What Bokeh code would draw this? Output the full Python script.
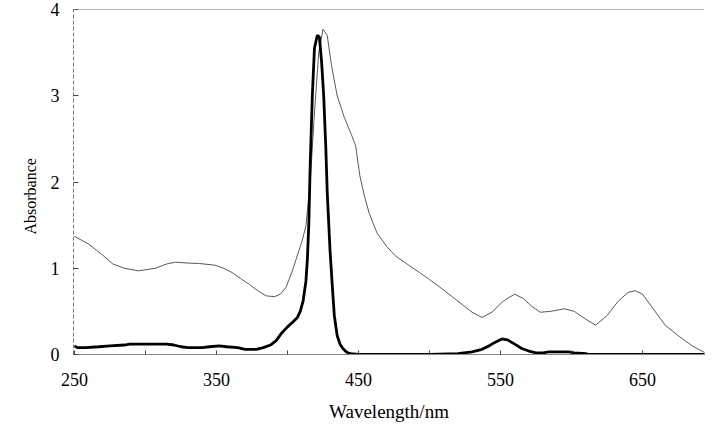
from bokeh.plotting import figure
from bokeh.models import Range1d, FixedTicker, Span, Title
from bokeh.embed import file_html
from bokeh.resources import INLINE

# Thin grey spectrum
thin_nm = [250, 260, 270, 277, 285, 295, 307, 315, 321, 330, 338, 349, 355, 361, 367, 373, 379, 385, 391,
           395, 399, 403, 406, 410, 413, 416, 419, 422, 425, 428, 431, 435, 440, 445, 448, 451, 454, 457.5,
           463, 470, 476, 485, 493, 500, 509, 516, 523, 530, 537, 544, 552, 560, 566, 572, 578, 585, 595,
           602, 610, 617, 625, 633, 640, 645, 650, 658, 666, 675, 685, 694]
thin_abs = [1.37, 1.28, 1.15, 1.05, 1.00, 0.97, 1.00, 1.05, 1.07, 1.06, 1.055, 1.035, 1.00, 0.95, 0.88, 0.815,
            0.74, 0.68, 0.67, 0.70, 0.78, 0.95, 1.10, 1.30, 1.49, 2.00, 2.80, 3.50, 3.77, 3.70, 3.35, 3.00,
            2.75, 2.55, 2.42, 2.07, 1.85, 1.64, 1.41, 1.25, 1.144, 1.04, 0.95, 0.87, 0.76, 0.67, 0.58, 0.49,
            0.43, 0.49, 0.62, 0.70, 0.65, 0.56, 0.49, 0.50, 0.53, 0.50, 0.41, 0.34, 0.45, 0.62, 0.72, 0.74,
            0.70, 0.52, 0.34, 0.22, 0.10, 0.02]

# Thick black spectrum
bold_nm = [250, 252, 258, 267, 275, 285, 289, 300, 315, 320, 325, 330, 340, 345, 352, 357, 365, 370, 378,
           383, 388, 392, 396, 400, 404, 407, 409, 411, 413, 414, 415, 416, 417.5, 419, 421, 422.5, 424,
           425.5, 427, 428, 430, 431.7, 433, 435, 437, 439, 441.5, 444, 450, 500, 520, 530, 537, 542, 546,
           551, 555, 560, 565, 570, 575, 580, 584, 598, 602, 610, 612, 694]
bold_abs = [0.10, 0.08, 0.08, 0.09, 0.10, 0.11, 0.12, 0.12, 0.12, 0.11, 0.09, 0.08, 0.08, 0.09, 0.10, 0.09,
            0.08, 0.06, 0.06, 0.08, 0.11, 0.16, 0.25, 0.32, 0.38, 0.43, 0.50, 0.62, 0.85, 1.10, 1.50, 2.20,
            3.00, 3.55, 3.70, 3.68, 3.40, 3.00, 2.40, 1.88, 1.20, 0.76, 0.45, 0.22, 0.12, 0.07, 0.03, 0.01,
            0.0, 0.0, 0.01, 0.03, 0.06, 0.10, 0.14, 0.18, 0.17, 0.12, 0.07, 0.04, 0.02, 0.02, 0.03, 0.03,
            0.02, 0.01, 0.0, 0.0]

x_ticks = [250, 300, 350, 400, 450, 500, 550, 600, 650]
x_labels = {250: "250", 300: "", 350: "350", 400: "", 450: "450", 500: "", 550: "550", 600: "", 650: "650"}
y_ticks = [0, 1, 2, 3, 4]

FONT = "Liberation Serif"

p = figure(width=706, height=429, output_backend="svg", toolbar_location=None,
           x_range=Range1d(249.3, 693.7), y_range=Range1d(0, 4),
           min_border_left=73, min_border_right=2, min_border_top=9, min_border_bottom=75)
p.outline_line_color = None
p.grid.visible = False
p.background_fill_color = "white"

p.line(thin_nm, thin_abs, line_color="#5a5a5a", line_width=1)
p.line(bold_nm, bold_abs, line_color="black", line_width=2.8)

p.add_layout(Span(location=4, dimension="width", line_color="#777777", line_width=1.2))

xa = p.xaxis[0]
xa.ticker = FixedTicker(ticks=x_ticks)
xa.major_label_overrides = x_labels
xa.minor_tick_line_color = None
xa.major_tick_in = 4
xa.major_tick_out = 0
xa.major_tick_line_color = "#444444"
xa.axis_line_color = "#888888"
xa.major_label_text_font = FONT
xa.major_label_text_font_size = "18px"
xa.major_label_text_color = "black"
xa.major_label_standoff = 18
xa.axis_label = "Wavelength/nm"
xa.axis_label_text_font = FONT
xa.axis_label_text_font_size = "19px"
xa.axis_label_text_font_style = "normal"
xa.axis_label_text_color = "black"
xa.axis_label_standoff = 12

ya = p.yaxis[0]
ya.ticker = FixedTicker(ticks=y_ticks)
ya.minor_tick_line_color = None
ya.major_tick_in = 5
ya.major_tick_out = 0
ya.major_tick_line_color = "#444444"
ya.axis_line_color = "#777777"
ya.axis_line_dash = "4 2"
ya.major_label_text_font = FONT
ya.major_label_text_font_size = "18px"
ya.major_label_text_color = "black"
ya.major_label_standoff = 14

p.add_layout(Title(text="Absorbance", align="left", offset=120, standoff=18,
                   text_font=FONT, text_font_size="16px", text_font_style="normal",
                   text_color="black"), "left")

open("out.html", "w").write(file_html(p, INLINE))
